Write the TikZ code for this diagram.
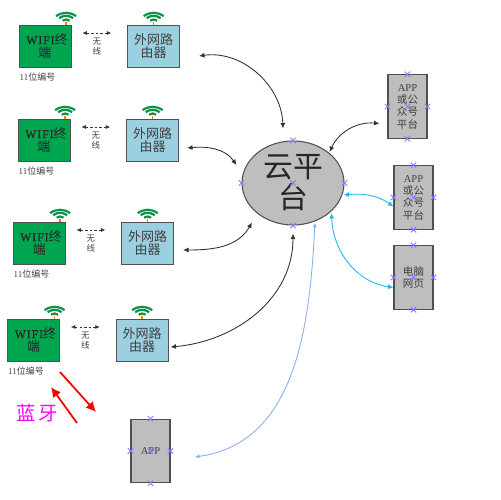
\documentclass[tikz,border=0pt]{standalone}
\usepackage{fontspec}
\setmainfont{Liberation Serif}
\newfontfamily\cjk{Noto Sans CJK SC}
\newfontfamily\latwide[LetterSpace=9,FakeBold=0.6]{Liberation Serif}
\usepackage{xcolor}
\usetikzlibrary{shapes.geometric, shapes.misc, arrows.meta, positioning}
\definecolor{wfGreen}{HTML}{00A550}
\definecolor{wfIcon}{HTML}{109048}
\definecolor{wfBlue}{HTML}{9BD0E0}
\definecolor{wfGray}{HTML}{BEBEBE}
\definecolor{wfLine}{HTML}{505050}
\definecolor{wfCyan}{HTML}{20B8F0}
\definecolor{wfSky}{HTML}{8CB0E8}
\definecolor{wfMark}{HTML}{8080FF}
\definecolor{wfPink}{HTML}{FF00FF}
\definecolor{wfText}{HTML}{404040}
\newcommand{\fsz}[2]{\fontsize{#1}{#2}\selectfont}
% the five small handles on a selected shape
\newcommand{\handles}[1]{%
  \foreach \a in {north,south,east,west,center}
    \node[handle] at (#1.\a) {};}
\tikzset{
  pics/wifi/.style={code={
    \draw[wfIcon, line width=0.044cm] (-3.5,4) to[bend left=35] (3.5,4);
    \draw[wfIcon, line width=0.044cm] (-7,6.5) to[bend left=35] (7,6.5);
    \draw[wfIcon, line width=0.044cm] (-10,8.5) to[bend left=35] (10,8.5);
    \draw[orange, line width=0.03cm] (0,0) -- (0,2.5);
  }},
}
\begin{document}
\begin{tikzpicture}[
  x=0.02cm, y=0.02cm, font=\cjk, node distance=1.12cm,
  term/.style={draw=wfLine, fill=wfGreen, line width=0.4pt, minimum width=1.04cm, minimum height=0.84cm,
               inner sep=0pt, align=center, text=black!85, font=\cjk\fsz{7.4}{7.8}},
  router/.style={draw=wfLine, fill=wfBlue, line width=0.4pt, minimum width=1.04cm, minimum height=0.84cm,
               inner sep=0pt, align=center, text=wfText, font=\cjk\fsz{7.4}{7.8}},
  plat/.style={draw=wfLine, fill=wfGray, line width=0.6pt, minimum width=0.78cm, minimum height=1.27cm,
               inner sep=0pt, align=center, text=wfText, font=\cjk\fsz{6}{7}},
  handle/.style={cross out, draw=wfMark, line width=0.5pt, minimum size=0.09cm, inner sep=0pt},
  idtxt/.style={font=\cjk\fsz{5.1}{5.1}, text=wfText, inner sep=0pt},
  air/.style={font=\cjk\fsz{4.8}{5.6}, align=center, text=wfText, inner sep=0pt},
  arr/.style={{Latex[length=1.1mm,width=1mm]}-{Latex[length=1.1mm,width=1mm]}, draw=black!80, line width=0.5pt},
  cyarr/.style={{Latex[length=1.1mm,width=1mm]}-{Latex[length=1.1mm,width=1mm]}, draw=wfCyan, line width=0.5pt},
  skyarr/.style={{Latex[length=1mm,width=0.8mm]}-{Latex[length=1mm,width=0.8mm]}, draw=wfSky, line width=0.5pt},
  darr/.style={{Latex[length=0.9mm,width=0.8mm]}-{Latex[length=0.9mm,width=0.8mm]}, draw=black!80, line width=0.4pt, dash pattern=on 1.4pt off 1.2pt},
  redarr/.style={-{Latex[length=2mm,width=2mm]}, draw=red, line width=1pt},
]
\useasboundingbox (0,0) rectangle (500,500);
\fill[white] (0,0) rectangle (500,500);

\node[term] (w1) at (45,454) {{\latwide\fsz{6.6}{7} WIFI}终\\端};
\node[router, right=of w1] (r1) {外网路\\由器};
\node[term] (w2) at (44,360) {{\latwide\fsz{6.6}{7} WIFI}终\\端};
\node[router, right=of w2] (r2) {外网路\\由器};
\node[term] (w3) at (39,257) {{\latwide\fsz{6.6}{7} WIFI}终\\端};
\node[router, right=of w3] (r3) {外网路\\由器};
\node[term] (w4) at (33.5,160) {{\latwide\fsz{6.6}{7} WIFI}终\\端};
\node[router, right=of w4] (r4) {外网路\\由器};

\node[idtxt, below right=0.11cm and -1.04cm of w1] (n1) {{\rmfamily 11}位编号};
\node[idtxt, below right=0.11cm and -1.04cm of w2] (n2) {{\rmfamily 11}位编号};
\node[idtxt, below right=0.11cm and -1.04cm of w3] (n3) {{\rmfamily 11}位编号};
\node[idtxt, below right=0.11cm and -1.04cm of w4] (n4) {{\rmfamily 11}位编号};

\pic at ([xshift=-3]w1.north east) {wifi};
\pic at ([xshift=-3]w2.north east) {wifi};
\pic at ([xshift=-3]w3.north east) {wifi};
\pic at ([xshift=-3]w4.north east) {wifi};
\pic at (r1.north) {wifi};
\pic at (r2.north) {wifi};
\pic at (r3.north) {wifi};
\pic at (r4.north) {wifi};

\node[ellipse, draw=wfLine, fill=wfGray, line width=0.6pt, minimum width=2.04cm, minimum height=1.68cm,
      inner sep=0pt, align=center, text=black!85, font=\cjk\fsz{17}{17.5}] (cloud) at (293,317) {云平\\台};
\node[plat] (a1) at (407.5,393.5) {{\rmfamily APP}\\或公\\众号\\平台};
\node[plat] (a2) at (413.5,302.5) {{\rmfamily APP}\\或公\\众号\\平台};
\node[plat] (pc) at (413.5,222.5) {电脑\\网页};
\node[plat] (app) at (150.5,49) {{\rmfamily APP}};
\handles{cloud}
\handles{a1}
\handles{a2}
\handles{pc}
\handles{app}

\draw[darr] ([shift={(11,13)}]w1.east) -- ([shift={(-16,13)}]r1.west) node[midway, below=0.09cm, air] {无\\线};
\draw[darr] ([shift={(11,13)}]w2.east) -- ([shift={(-16,13)}]r2.west) node[midway, below=0.09cm, air] {无\\线};
\draw[darr] ([shift={(11,13)}]w3.east) -- ([shift={(-16,13)}]r3.west) node[midway, below=0.09cm, air] {无\\线};
\draw[darr] ([shift={(11,13)}]w4.east) -- ([shift={(-16,13)}]r4.west) node[midway, below=0.09cm, air] {无\\线};

\draw[arr] ([shift={(19,-10)}]r1.east) to[out=8, in=92] ([shift={(-10,12)}]cloud.north);
\draw[arr] ([shift={(8,-8)}]r2.east) to[out=5, in=125] ([shift={(-5,18)}]cloud.west);
\draw[arr] ([shift={(9,-7)}]r3.east) to[out=0, in=-120] ([shift={(-41,3)}]cloud.south);
\draw[arr] ([shift={(2,-7)}]r4.east) to[out=5, in=-90] ([shift={(0,-8)}]cloud.south);
\draw[arr] ([shift={(-8,-17)}]a1.west) to[out=175, in=65] ([shift={(-15,31)}]cloud.east);
\draw[cyarr] ([shift={(-1,-12)}]cloud.east) to[out=5, in=145] ([shift={(0,-9)}]a2.west);
\draw[cyarr] ([shift={(-13,-30)}]cloud.east) to[out=-88, in=172] ([shift={(0,-10)}]pc.west);
\draw[skyarr] ([shift={(22,3)}]cloud.south) to[out=-93, in=8] ([shift={(24,-6)}]app.east);

\coordinate (bt1) at (60,128);
\coordinate (bt2) at (96,88);
\coordinate (bt3) at (77,77);
\coordinate (bt4) at (51,113);
\draw[redarr] (bt1) -- (bt2);
\draw[redarr] (bt3) -- (bt4);
\node[text=wfPink, font=\cjk\fsz{11}{11}] (bt) at (37,87) {蓝\,牙};
\end{tikzpicture}
\end{document}
